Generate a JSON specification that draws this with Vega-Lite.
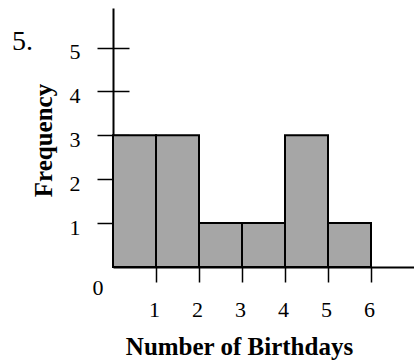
{
  "$schema": "https://vega.github.io/schema/vega-lite/v6.json",
  "width": 301,
  "height": 259,
  "autosize": {"type": "none"},
  "padding": {"left": 113, "top": 8, "right": 0, "bottom": 97},
  "background": "white",
  "title": {
    "text": "5.",
    "anchor": "start",
    "frame": "group",
    "font": "Liberation Serif",
    "fontSize": 28,
    "fontWeight": "normal",
    "color": "black",
    "baseline": "alphabetic",
    "offset": 0,
    "dx": -101,
    "dy": 70
  },
  "config": {
    "view": {"stroke": null},
    "axis": {"grid": false}
  },
  "data": {
    "values": [
      {"start": 0, "end": 1, "freq": 3},
      {"start": 1, "end": 2, "freq": 3},
      {"start": 2, "end": 3, "freq": 1},
      {"start": 3, "end": 4, "freq": 1},
      {"start": 4, "end": 5, "freq": 3},
      {"start": 5, "end": 6, "freq": 1}
    ]
  },
  "layer": [
    {
      "mark": {"type": "bar", "fill": "#a6a6a6", "stroke": "black", "strokeWidth": 2},
      "encoding": {
        "x": {
          "field": "start",
          "type": "quantitative",
          "scale": {"domain": [0, 7], "nice": false, "zero": false},
          "axis": {
            "values": [1, 2, 3, 4, 5, 6],
            "title": "Number of Birthdays",
            "titleFont": "Liberation Serif",
            "titleFontSize": 25,
            "titleFontWeight": "bold",
            "titleColor": "black",
            "titleAlign": "center",
            "titleBaseline": "alphabetic",
            "titleX": 126,
            "titleY": 87,
            "domainColor": "black",
            "domainWidth": 2,
            "tickColor": "black",
            "tickWidth": 1.5,
            "tickSize": 15,
            "labelFont": "Liberation Serif",
            "labelFontSize": 22,
            "labelColor": "black",
            "labelBaseline": "alphabetic",
            "labelPadding": 34,
            "labelOffset": -2,
            "labelFlush": false
          }
        },
        "x2": {"field": "end"},
        "y": {
          "field": "freq",
          "type": "quantitative",
          "scale": {"domain": [0, 5.9], "nice": false},
          "axis": {
            "orient": "left",
            "values": [0, 1, 2, 3, 4, 5],
            "title": "Frequency",
            "titleFont": "Liberation Serif",
            "titleFontSize": 25,
            "titleFontWeight": "bold",
            "titleColor": "black",
            "titleAngle": -90,
            "titleAlign": "center",
            "titleBaseline": "alphabetic",
            "titleX": -62,
            "titleY": 132,
            "domainColor": "black",
            "domainWidth": 2,
            "tickColor": "black",
            "tickWidth": 1.5,
            "tickSize": 16,
            "tickOpacity": {"condition": {"test": "datum.value === 0", "value": 0}, "value": 1},
            "labelFont": "Liberation Serif",
            "labelFontSize": 22,
            "labelColor": "black",
            "labelOffset": {"condition": {"test": "datum.value === 0", "value": 20}, "value": 4},
            "labelPadding": {"condition": {"test": "datum.value === 0", "value": -6}, "value": 17},
            "labelFlush": false
          }
        },
        "y2": {"datum": 0}
      }
    },
    {
      "mark": {"type": "point", "opacity": 0},
      "encoding": {
        "y": {
          "field": "freq",
          "type": "quantitative",
          "axis": {
            "orient": "left",
            "values": [1, 2, 3, 4, 5],
            "title": null,
            "labels": false,
            "domain": false,
            "tickColor": "black",
            "tickWidth": 1.5,
            "tickSize": -16
          }
        }
      }
    }
  ],
  "resolve": {"axis": {"y": "independent"}}
}
